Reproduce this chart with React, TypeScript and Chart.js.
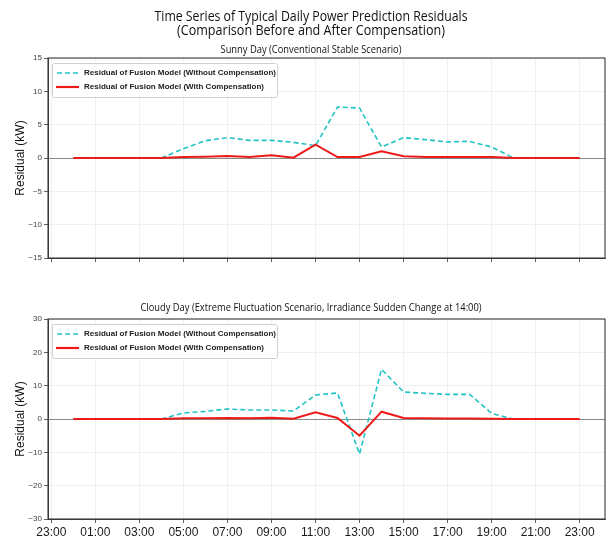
import React, { useEffect, useRef } from "react";
import { Chart, registerables } from "chart.js";
Chart.register(...registerables);

const hours = [0, 1, 2, 3, 4, 5, 6, 7, 8, 9, 10, 11, 12, 13, 14, 15, 16, 17, 18, 19, 20, 21, 22, 23];
const sunnyWithout = [0, 0, 0, 0, 0, 1.4, 2.6, 3.05, 2.65, 2.65, 2.35, 1.85, 7.65, 7.5, 1.65, 3.05, 2.75, 2.4, 2.5, 1.65, 0, 0, 0, 0];
const sunnyWith = [0, 0, 0, 0, 0, 0.15, 0.2, 0.3, 0.15, 0.4, 0.05, 2.0, 0.15, 0.15, 1.0, 0.25, 0.15, 0.15, 0.15, 0.15, 0, 0, 0, 0];
const cloudyWithout = [0, 0, 0, 0, 0, 1.8, 2.3, 3.0, 2.7, 2.7, 2.4, 7.2, 7.8, -10.5, 14.9, 8.1, 7.7, 7.4, 7.4, 1.7, 0, 0, 0, 0];
const cloudyWith = [0, 0, 0, 0, 0, 0.2, 0.25, 0.3, 0.2, 0.4, 0.1, 2.0, 0.3, -5.0, 2.2, 0.3, 0.2, 0.15, 0.15, 0.1, 0, 0, 0, 0];
const xTickHours = [-1, 1, 3, 5, 7, 9, 11, 13, 15, 17, 19, 21, 23];
const sunnyYTicks = [-15, -10, -5, 0, 5, 10, 15];
const cloudyYTicks = [-30, -20, -10, 0, 10, 20, 30];
const seriesLabels = [
  "Residual of Fusion Model (Without Compensation)",
  "Residual of Fusion Model (With Compensation)",
];
const mainTitle = [
  "Time Series of Typical Daily Power Prediction Residuals",
  "(Comparison Before and After Compensation)",
];
const sunnyTitle = "Sunny Day (Conventional Stable Scenario)";
const cloudyTitle = "Cloudy Day (Extreme Fluctuation Scenario, Irradiance Sudden Change at 14:00)";
const yAxisTitle = "Residual (kW)";

const CYAN = "#22c3c3";
const RED = "#ee1a1a";
const GRID = "#ebebeb";
const SPINE = "#3a3a3a";
const SANS = "'Liberation Sans', Arial, sans-serif";
const TITLE_FONT = "'Open Sans', 'Noto Sans', sans-serif";

function fmtHour(v: number) {
  const h = ((Math.round(v) % 24) + 24) % 24;
  return (h < 10 ? "0" : "") + h + ":00";
}

function drawText(
  ctx: CanvasRenderingContext2D,
  text: string,
  x: number,
  y: number,
  font: string,
  color: string,
  align: CanvasTextAlign,
  width?: number
) {
  ctx.save();
  ctx.font = font;
  ctx.fillStyle = color;
  ctx.textBaseline = "middle";
  ctx.textAlign = align;
  const w = ctx.measureText(text).width;
  const sx = width ? width / w : 1;
  ctx.translate(x, y);
  ctx.scale(sx, 1);
  ctx.fillText(text, 0, 0);
  ctx.restore();
}

type PanelCfg = {
  key: string;
  without: number[];
  withc: number[];
  yTicks: number[];
  showXLabels: boolean;
  height: number;
  padTop: number;
  xAxisHeight: number;
  padBottom: number;
  titles: { text: string; y: number; font: string; width: number }[];
  legendTop: number;
};

function makeDecor(cfg: PanelCfg) {
  return {
    id: "decor" + cfg.key,
    beforeDatasetsDraw(chart: any) {
      const { ctx, chartArea: a, scales } = chart;
      const y0 = Math.round(scales.y.getPixelForValue(0)) + 0.5;
      ctx.save();
      ctx.strokeStyle = "#8a8a8a";
      ctx.lineWidth = 1;
      ctx.beginPath();
      ctx.moveTo(a.left, y0);
      ctx.lineTo(a.right, y0);
      ctx.stroke();
      ctx.restore();
    },
    afterDraw(chart: any) {
      const { ctx, chartArea: a } = chart;
      // frame
      ctx.save();
      ctx.strokeStyle = SPINE;
      ctx.lineWidth = 1.1;
      ctx.strokeRect(a.left, a.top, a.right - a.left, a.bottom - a.top);
      ctx.restore();
      // titles
      for (const t of cfg.titles) {
        drawText(ctx, t.text, 311, t.y, t.font, "#111", "center", t.width);
      }
      // y axis title
      ctx.save();
      ctx.translate(21, (a.top + a.bottom) / 2);
      ctx.rotate(-Math.PI / 2);
      drawText(ctx, yAxisTitle, 0, 0, "12px " + SANS, "#111", "center");
      ctx.restore();
      // legend
      const lx = 52, ly = cfg.legendTop, lw = 225, lh = 34;
      ctx.save();
      ctx.fillStyle = "rgba(255,255,255,0.85)";
      ctx.strokeStyle = "#d0d0d0";
      ctx.lineWidth = 1;
      ctx.beginPath();
      (ctx as any).roundRect(lx + 0.5, ly + 0.5, lw, lh, 2);
      ctx.fill();
      ctx.stroke();
      const rows = [ly + 10, ly + 24];
      // row 1 dashed cyan
      ctx.strokeStyle = CYAN;
      ctx.lineWidth = 1.6;
      ctx.setLineDash([5, 3]);
      ctx.beginPath();
      ctx.moveTo(57, rows[0]);
      ctx.lineTo(79, rows[0]);
      ctx.stroke();
      ctx.setLineDash([]);
      ctx.strokeStyle = RED;
      ctx.lineWidth = 2.2;
      ctx.beginPath();
      ctx.moveTo(56, rows[1]);
      ctx.lineTo(79, rows[1]);
      ctx.stroke();
      ctx.restore();
      drawText(ctx, seriesLabels[0], 84, rows[0], "bold 8px " + SANS, "#222", "left", 192);
      drawText(ctx, seriesLabels[1], 84, rows[1], "bold 8px " + SANS, "#222", "left", 180);
    },
  };
}

function makeConfig(cfg: PanelCfg): any {
  const ymin = cfg.yTicks[0];
  const ymax = cfg.yTicks[cfg.yTicks.length - 1];
  return {
    type: "line",
    data: {
      datasets: [
        {
          label: seriesLabels[1],
          data: hours.map((h, i) => ({ x: h, y: cfg.withc[i] })),
          borderColor: RED,
          borderWidth: 2,
          pointRadius: 0,
          tension: 0,
          fill: false,
          order: 0,
        },
        {
          label: seriesLabels[0],
          data: hours.map((h, i) => ({ x: h, y: cfg.without[i] })),
          borderColor: CYAN,
          borderWidth: 1.6,
          borderDash: [5, 3],
          pointRadius: 0,
          tension: 0,
          fill: false,
          order: 1,
        },
      ],
    },
    options: {
      responsive: false,
      animation: false,
      events: [],
      layout: { padding: { top: cfg.padTop, left: 0, right: 3, bottom: cfg.padBottom } },
      plugins: { legend: { display: false }, tooltip: { enabled: false }, title: { display: false } },
      scales: {
        x: {
          type: "linear",
          min: -1.15,
          max: 24.15,
          afterBuildTicks: (s: any) => {
            s.ticks = xTickHours.map((v) => ({ value: v }));
          },
          afterFit: (s: any) => {
            s.height = cfg.xAxisHeight;
          },
          ticks: {
            display: cfg.showXLabels,
            autoSkip: false,
            maxRotation: 0,
            padding: 2,
            color: "#1a1a1a",
            font: { size: 12, family: SANS },
            callback: (v: any) => fmtHour(Number(v)),
          },
          grid: { color: GRID, lineWidth: 0.8, tickColor: SPINE, tickLength: 4, drawTicks: true },
          border: { display: true, color: SPINE, width: 1 },
        },
        y: {
          type: "linear",
          min: ymin,
          max: ymax,
          afterBuildTicks: (s: any) => {
            s.ticks = cfg.yTicks.map((v) => ({ value: v }));
          },
          afterFit: (s: any) => {
            s.width = 48;
          },
          ticks: {
            padding: 2,
            color: "#444",
            font: { size: 8, family: SANS },
            callback: (v: any) => {
              const n = Number(v);
              return n < 0 ? "\u2212" + Math.abs(n) : String(n);
            },
          },
          grid: { color: GRID, lineWidth: 0.8, tickColor: SPINE, tickLength: 4, drawTicks: true },
          border: { display: true, color: SPINE, width: 1 },
        },
      },
    },
    plugins: [makeDecor(cfg)],
  };
}

const topCfg: PanelCfg = {
  key: "top",
  without: sunnyWithout,
  withc: sunnyWith,
  yTicks: sunnyYTicks,
  showXLabels: false,
  height: 285,
  padTop: 58,
  xAxisHeight: 14,
  padBottom: 13,
  titles: [
    { text: mainTitle[0], y: 16.5, font: "15px " + TITLE_FONT, width: 313 },
    { text: mainTitle[1], y: 31, font: "15px " + TITLE_FONT, width: 268 },
    { text: sunnyTitle, y: 49.5, font: "11px " + TITLE_FONT, width: 181 },
  ],
  legendTop: 63,
};

const bottomCfg: PanelCfg = {
  key: "bottom",
  without: cloudyWithout,
  withc: cloudyWith,
  yTicks: cloudyYTicks,
  showXLabels: true,
  height: 255,
  padTop: 34,
  xAxisHeight: 21,
  padBottom: 0,
  titles: [{ text: cloudyTitle, y: 307.5 - 285, font: "11px " + TITLE_FONT, width: 341 }],
  legendTop: 324 - 285,
};

function Panel({ cfg, top }: { cfg: PanelCfg; top: number }) {
  const ref = useRef<HTMLCanvasElement | null>(null);
  useEffect(() => {
    if (!ref.current) return;
    const chart = new Chart(ref.current, makeConfig(cfg));
    return () => chart.destroy();
  }, [cfg]);
  return (
    <canvas
      ref={ref}
      width={608}
      height={cfg.height}
      style={{ position: "absolute", left: 0, top, width: 608, height: cfg.height, display: "block" }}
    />
  );
}

export default function App() {
  return (
    <div style={{ position: "absolute", left: 0, top: 0, width: 608, height: 540, background: "#fff" }}>
      <Panel cfg={topCfg} top={0} />
      <Panel cfg={bottomCfg} top={285} />
    </div>
  );
}
